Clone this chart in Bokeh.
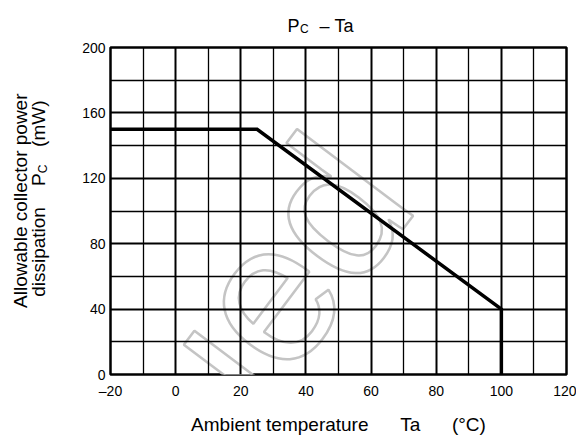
import math
from bokeh.plotting import figure
from bokeh.models import FixedTicker, Label
from bokeh.embed import file_html
from bokeh.resources import INLINE

# ---- data ----
temps = [-20, 25, 100, 100]
power = [150, 150, 40, 0]
x_major = [-20, 0, 20, 40, 60, 80, 100, 120]
x_minor = [-10, 10, 30, 50, 70, 90, 110]
y_major = [0, 40, 80, 120, 160, 200]
y_minor = [20, 60, 100, 140, 180]
x_tick_labels = {-20: "\u201320"}

FONT = "Liberation Sans"
NB = "\u00a0"

# frame geometry (canvas pixels)
FL, FR, FT, FB = 110, 566, 47, 374
W = 576
H = 437

p = figure(width=W, height=H, x_range=(-20, 120), y_range=(0, 200),
           output_backend="svg", toolbar_location=None,
           min_border_left=FL, min_border_right=W - FR,
           min_border_top=FT, min_border_bottom=H - FB)
p.background_fill_color = "white"
p.border_fill_color = "white"
p.outline_line_color = "black"
p.outline_line_width = 2.5

for ax in (p.xaxis[0], p.yaxis[0]):
    ax.axis_line_color = None
    ax.major_tick_line_color = None
    ax.minor_tick_line_color = None
    ax.major_tick_out = 0
    ax.minor_tick_out = 0
    ax.major_label_text_font = FONT
    ax.major_label_text_font_size = "14px"
    ax.major_label_text_color = "black"

p.xaxis.ticker = FixedTicker(ticks=x_major)
p.yaxis.ticker = FixedTicker(ticks=y_major)
p.xaxis.major_label_overrides = x_tick_labels
p.xaxis.major_label_standoff = 8
p.yaxis.major_label_standoff = 5

p.xgrid.ticker = FixedTicker(ticks=x_major, minor_ticks=x_minor)
p.ygrid.ticker = FixedTicker(ticks=y_major, minor_ticks=y_minor)
for g in (p.xgrid[0], p.ygrid[0]):
    g.grid_line_color = "black"
    g.grid_line_width = 2.0
    g.minor_grid_line_color = "black"
    g.minor_grid_line_width = 1.3
    g.level = "underlay"


def px2x(px):
    return -20 + (px - FL) * 140.0 / (FR - FL)


def py2y(py):
    return (FB - py) * 200.0 / (FB - FT)


# faint outlined watermark behind the grid and the curve
p.add_layout(Label(x=px2x(365), y=py2y(163), text="Discontinued", text_font=FONT,
                   text_font_size="200px", text_color="white",
                   text_outline_color="#c4c4c4",
                   text_align="right", text_baseline="alphabetic",
                   angle=math.radians(53), level="image"))

p.line(temps, power, line_color="black", line_width=3.5, line_join="miter")


def lab(text, px, py, size, side, align="left", baseline="alphabetic", angle=0.0):
    p.add_layout(Label(x=px2x(px), y=py2y(py), text=text, text_font=FONT,
                       text_font_size=size, text_color="black",
                       text_align=align, text_baseline=baseline, angle=angle), side)


# title  P_C – Ta
lab("P" + NB * 4 + "\u2013" + NB + "Ta", 287, 25, "18px", "above")
lab("C", 299.5, 28.5, "12px", "above")

# x axis label
lab("Ambient temperature" + NB * 6 + "Ta" + NB * 6 + "(\u00b0C)", 338, 424, "19px", "below",
    align="center")

# y axis label (rotated)
r = math.pi / 2
lab("Allowable collector power", 20, 93, "19px", "left", align="right", baseline="middle", angle=r)
lab("dissipation" + NB * 4 + "P" + NB * 5 + "(mW)", 38, 100, "19px", "left",
    align="right", baseline="middle", angle=r)
lab("C", 42, 164, "12px", "left", align="right", baseline="middle", angle=r)

open("out.html", "w").write(file_html(p, INLINE))
